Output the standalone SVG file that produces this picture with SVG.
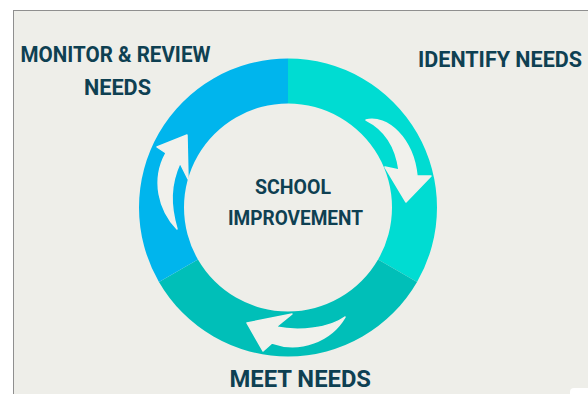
<svg xmlns="http://www.w3.org/2000/svg" width="588" height="394" viewBox="0 0 588 394">
<style>
.lbl{font-family:Roboto,"Liberation Sans",sans-serif;font-weight:700;fill:#0e4052}
.arrow{fill:#f1f1ec;stroke:#f1f1ec;stroke-width:1.5;stroke-linejoin:round}
</style>
<rect x="0" y="0" width="588" height="394" fill="#ffffff"/>
<rect x="13.5" y="10.5" width="580" height="390" fill="#eeeee9" stroke="#8f8f8f" stroke-width="1"/>
<g id="ring">
<path id="seg-identify" d="M288,58.5 A149,149 0 0 1 417.04,282 L378.07,259.5 A104,104 0 0 0 288,103.5 Z" fill="#00dcd2"/>
<path id="seg-meet" d="M417.04,282 A149,149 0 0 1 158.96,282 L197.93,259.5 A104,104 0 0 0 378.07,259.5 Z" fill="#00bfb8"/>
<path id="seg-monitor" d="M158.96,282 A149,149 0 0 1 288,58.5 L288,103.5 A104,104 0 0 0 197.93,259.5 Z" fill="#00b5ed"/>
</g>
<g id="center">
<text class="lbl" x="293" y="194" font-size="21" text-anchor="middle" textLength="76" lengthAdjust="spacingAndGlyphs">SCHOOL</text>
<text class="lbl" x="295.5" y="225" font-size="21" text-anchor="middle" textLength="135" lengthAdjust="spacingAndGlyphs">IMPROVEMENT</text>
</g>
<g id="identify">
<text class="lbl" x="418" y="67" font-size="22" textLength="164" lengthAdjust="spacingAndGlyphs">IDENTIFY NEEDS</text>
</g>
<g id="meet">
<text class="lbl" x="229.5" y="387" font-size="24" textLength="141.5" lengthAdjust="spacingAndGlyphs">MEET NEEDS</text>
</g>
<g id="monitor">
<text class="lbl" x="20.5" y="62" font-size="22.5" textLength="190" lengthAdjust="spacingAndGlyphs">MONITOR &amp; REVIEW</text>
<text class="lbl" x="84" y="95" font-size="22.5" textLength="67" lengthAdjust="spacingAndGlyphs">NEEDS</text>
</g>
<g id="connectors">
<path class="arrow" d="M366,120 C387,115 413,138 417,176 L431,176 L406,202 L385,167 L399,170 C396,148 386,130 366,120 Z"/>
<path class="arrow" d="M345,317 C331,341 300,353 272,343 L263,351 L247,323 L292,314 L276,327 C300,332 330,328 345,317 Z"/>
<path class="arrow" d="M177,229 C159,210 151,180 166,153 L157,147 L187,135 L188,179 L180,163 C170,185 170,205 177,229 Z"/>
</g>
<rect x="570" y="388" width="30" height="12" rx="4" fill="#ffffff"/>
</svg>
